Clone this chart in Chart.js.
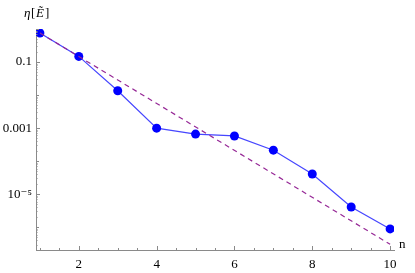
<!DOCTYPE html>
<html>
<head>
<meta charset="utf-8">
<script src="https://cdn.jsdelivr.net/npm/chart.js@4.4.0/dist/chart.umd.min.js"></script>
<style>
  html, body { margin: 0; padding: 0; background: #fff; }
  #wrap { width: 415px; height: 273px; position: relative; }
</style>
</head>
<body>
<div id="wrap"><canvas id="chartEta"></canvas></div>
<script>
// values
var nValues = [1, 2, 3, 4, 5, 6, 7, 8, 9, 10];
var etaValues = [0.757, 0.148, 0.0135, 0.001, 0.00066, 0.00058, 0.000215, 0.000041, 0.0000041, 0.00000089];
// dashed reference line (straight on the log axis)
var fitN = [1, 10];
var fitEta = [0.757, 0.000000305];
var xTickValues = [2, 4, 6, 8, 10];
var yTickValues = [0.1, 0.001, 0.00001];
var yTickLabels = ['0.1', '0.001', '10\u207B\u2075'];

var serif = "'Liberation Serif', 'DejaVu Serif', serif";

function toPoints(xs, ys) {
    return xs.map(function(x, i) { return { x: x, y: ys[i] }; });
}

// Mathematica-style ticks drawn inside the frame, plus the axis labels
var axisDecor = {
    id: 'axisDecor',
    afterDatasetsDraw: function(chart) {
        var ctx = chart.ctx;
        var area = chart.chartArea;
        var xs = chart.scales.x, ys = chart.scales.y;
        ctx.save();
        ctx.strokeStyle = '#8a8a8a';
        ctx.lineWidth = 1;
        ctx.beginPath();
        // x ticks every 0.5, majors every 2
        for (var v = 1; v <= 10.001; v += 0.5) {
            var px = Math.round(xs.getPixelForValue(v)) + 0.5;
            var len = (v % 2 === 0) ? 4 : 2;
            ctx.moveTo(px, area.bottom);
            ctx.lineTo(px, area.bottom - len);
        }
        // y ticks: m * 10^k
        for (var k = -7; k <= 0; k++) {
            for (var m = 1; m <= 9; m++) {
                var val = m * Math.pow(10, k);
                if (val < ys.min || val > ys.max) continue;
                var py = Math.round(ys.getPixelForValue(val)) + 0.5;
                var major = (m === 1 && (k === -1 || k === -3 || k === -5));
                var l = major ? 4 : (m === 1 ? 3 : 1.5);
                ctx.moveTo(area.left, py);
                ctx.lineTo(area.left + l, py);
            }
        }
        ctx.stroke();

        ctx.fillStyle = '#000';
        ctx.textBaseline = 'alphabetic';
        ctx.textAlign = 'left';
        ctx.font = 'italic 13px ' + serif;
        ctx.fillText('\u03B7', 24, 17);
        ctx.font = '13px ' + serif;
        ctx.fillText('[', 31, 17);
        ctx.font = 'italic 13px ' + serif;
        ctx.fillText('E\u0303', 36, 17);
        ctx.font = '13px ' + serif;
        ctx.fillText(']', 45, 17);
        ctx.fillText('n', 399, 248);
        ctx.restore();
    }
};

var ctx = document.getElementById('chartEta');
var chartEta = new Chart(ctx, {
    type: 'line',
    data: {
        datasets: [{
            label: 'fit',
            data: toPoints(fitN, fitEta),
            borderColor: 'rgb(150, 40, 150)',
            borderWidth: 1.2,
            borderDash: [5, 4],
            pointRadius: 0,
            fill: false,
            order: 0
        }, {
            label: 'eta',
            data: toPoints(nValues, etaValues),
            borderColor: 'rgb(70, 70, 255)',
            borderWidth: 1.2,
            backgroundColor: '#0000ff',
            pointBackgroundColor: '#0000ff',
            pointBorderColor: '#0000ff',
            pointRadius: 4.5,
            pointBorderWidth: 0,
            fill: false,
            order: 1
        }]
    },
    options: {
        responsive: true,
        maintainAspectRatio: false,
        animation: false,
        layout: { padding: { top: 29, right: 21, left: 0, bottom: 0 } },
        plugins: {
            legend: { display: false },
            tooltip: { enabled: false }
        },
        scales: {
            x: {
                type: 'linear',
                min: 0.9,
                max: 10.1,
                afterBuildTicks: function(scale) {
                    scale.ticks = xTickValues.map(function(v) { return { value: v }; });
                },
                afterFit: function(scale) { scale.height = 23; },
                grid: { display: false, drawTicks: false },
                border: { display: true, color: '#8a8a8a', width: 1 },
                ticks: {
                    color: '#000',
                    font: { family: serif, size: 13 },
                    padding: 7,
                    maxRotation: 0,
                    autoSkip: false
                }
            },
            y: {
                type: 'logarithmic',
                min: 0.000000205,
                max: 1,
                afterBuildTicks: function(scale) {
                    scale.ticks = yTickValues.map(function(v) { return { value: v }; });
                },
                afterFit: function(scale) { scale.width = 36; },
                grid: { display: false, drawTicks: false },
                border: { display: true, color: '#8a8a8a', width: 1 },
                ticks: {
                    color: '#000',
                    font: { family: serif, size: 13 },
                    padding: 4,
                    autoSkip: false,
                    callback: function(value) {
                        var i = yTickValues.indexOf(value);
                        return i >= 0 ? yTickLabels[i] : '';
                    }
                }
            }
        }
    },
    plugins: [axisDecor]
});
</script>
</body>
</html>
